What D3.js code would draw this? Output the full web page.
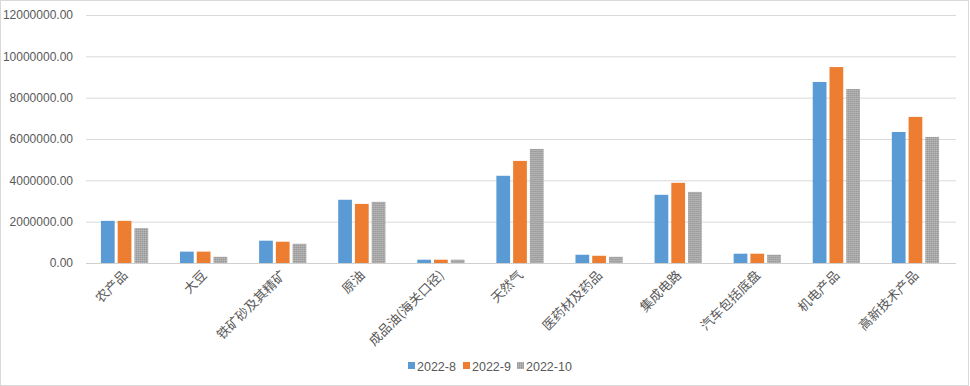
<!DOCTYPE html>
<html>
<head>
<meta charset="utf-8">
<script src="https://cdn.jsdelivr.net/npm/d3@7/dist/d3.min.js"></script>
<style>
  body { margin: 0; background: #fff; }
  svg { display: block; font-family: "Noto Sans CJK SC", "Liberation Sans", sans-serif; }
</style>
</head>
<body>
<div class="container"></div>
<script>
// categories and series
const categories = ["农产品", "大豆", "铁矿砂及其精矿", "原油", "成品油(海关口径)", "天然气",
    "医药材及药品", "集成电路", "汽车包括底盘", "机电产品", "高新技术产品"];
const seriesNames = ["2022-8", "2022-9", "2022-10"];
const values2022_8  = [2040000, 550000, 1080000, 3060000, 160000, 4220000, 400000, 3300000, 450000, 8760000, 6340000];
const values2022_9  = [2040000, 550000, 1030000, 2860000, 160000, 4940000, 350000, 3880000, 450000, 9480000, 7070000];
const values2022_10 = [1690000, 300000, 930000, 2960000, 160000, 5520000, 300000, 3440000, 400000, 8420000, 6100000];
const yTicks = [0, 2000000, 4000000, 6000000, 8000000, 10000000, 12000000];

const seriesValues = [values2022_8, values2022_9, values2022_10];
const colors = ["#5b9bd5", "#ed7d31", "url(#grayPattern)"];

const W = 970, H = 386;
const margin = {top: 15, right: 14, bottom: 123, left: 86};

const svg = d3.select("div.container").append("svg")
    .attr("width", W)
    .attr("height", H);

//pattern for the textured gray series
const defs = svg.append("defs");
const pat = defs.append("pattern")
    .attr("id", "grayPattern")
    .attr("width", 2).attr("height", 2)
    .attr("patternUnits", "userSpaceOnUse");
pat.append("rect").attr("width", 2).attr("height", 2).attr("fill", "#a8a8a8");
pat.append("rect").attr("width", 1).attr("height", 1).attr("fill", "#bababa");
pat.append("rect").attr("x", 1).attr("y", 1).attr("width", 1).attr("height", 1).attr("fill", "#999999");

//outer frame
svg.append("rect")
    .attr("x", 0.5).attr("y", 0.5)
    .attr("width", W - 2).attr("height", H - 1)
    .attr("fill", "none")
    .attr("stroke", "#d9d9d9");

const x = d3.scaleBand()
    .domain(categories)
    .range([margin.left, W - margin.right]);

const x1 = d3.scaleBand()
    .domain(seriesNames)
    .range([0, x.bandwidth()])
    .paddingInner(0.18)
    .paddingOuter(0.95);

const y = d3.scaleLinear()
    .domain([0, 12000000])
    .range([H - margin.bottom, margin.top]);

//gridlines and y labels
const yAxis = svg.append("g")
    .attr("transform", `translate(${margin.left},0)`)
    .call(d3.axisLeft(y).tickValues(yTicks)
        .tickSize(-(W - margin.left - margin.right))
        .tickPadding(13)
        .tickFormat(d => d3.format(".2f")(d)));
yAxis.select(".domain").remove();
yAxis.selectAll("line").attr("stroke", "#d9d9d9");
yAxis.selectAll("text")
    .attr("fill", "#595959")
    .style("font-size", "12px")
    .style("font-family", "'Liberation Sans', sans-serif");

//bars
const groups = svg.selectAll("g.cat")
    .data(categories)
    .enter()
    .append("g")
    .attr("class", "cat")
    .attr("transform", d => `translate(${x(d) - 1},0)`);

groups.selectAll("rect")
    .data((d, i) => seriesNames.map((s, j) => ({s: s, v: seriesValues[j][i], j: j})))
    .enter()
    .append("rect")
    .attr("x", d => x1(d.s))
    .attr("width", x1.bandwidth())
    .attr("y", d => y(d.v))
    .attr("height", d => y(0) - y(d.v))
    .attr("fill", d => colors[d.j]);

//x axis line
svg.append("line")
    .attr("x1", margin.left).attr("x2", W - margin.right)
    .attr("y1", y(0) + 0.5).attr("y2", y(0) + 0.5)
    .attr("stroke", "#d0d0d0");

//rotated category labels
svg.selectAll("text.cat")
    .data(categories)
    .enter()
    .append("text")
    .attr("class", "cat")
    .attr("text-anchor", "end")
    .attr("transform", d => `translate(${x(d) + x.bandwidth() / 2 + 3},${y(0) + 13}) rotate(-45)`)
    .attr("fill", "#595959")
    .style("font-size", "13px")
    .text(d => d);

//legend
const legend = svg.append("g").attr("transform", "translate(408,366)");
const legendX = [0, 55, 109];
seriesNames.forEach((s, i) => {
    legend.append("rect")
        .attr("x", legendX[i]).attr("y", -4)
        .attr("width", 7).attr("height", 7)
        .attr("fill", colors[i]);
    legend.append("text")
        .attr("x", legendX[i] + 9).attr("y", 4.5)
        .attr("fill", "#595959")
        .style("font-size", "12.5px")
        .style("font-family", "'Liberation Sans', sans-serif")
        .text(s);
});
</script>
</body>
</html>
